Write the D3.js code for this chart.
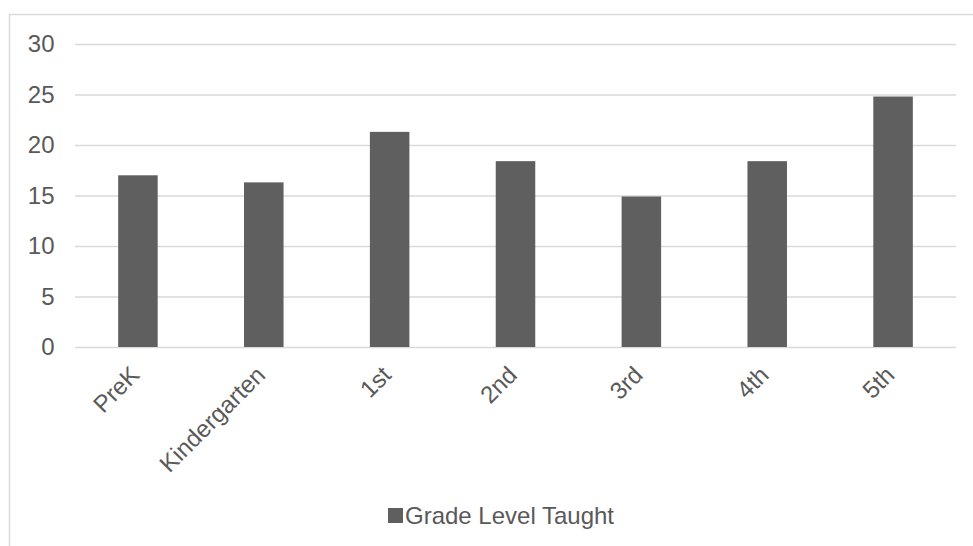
<!DOCTYPE html>
<html>
<head>
<meta charset="utf-8">
<script src="https://cdn.jsdelivr.net/npm/d3@7"></script>
<style>
  html, body { margin: 0; padding: 0; background: #fff; }
  svg { display: block; font-family: "Liberation Sans", Arial, sans-serif; }
</style>
</head>
<body>
<svg id="chart" width="973" height="546"></svg>
<script>
// Grade level data
const categories = ["PreK", "Kindergarten", "1st", "2nd", "3rd", "4th", "5th"];
const values = [17.0, 16.3, 21.3, 18.4, 14.9, 18.4, 24.8];
const yTicks = [0, 5, 10, 15, 20, 25, 30];
const seriesName = "Grade Level Taught";

const svg = d3.select("#chart");
const W = 973, H = 546;
const margin = { left: 75, right: 17, top: 44, bottom: 199 };
const plotW = W - margin.left - margin.right;
const plotH = H - margin.top - margin.bottom;

const barColor = "#5f5f5f";
const textColor = "#595959";
const gridColor = "#d9d9d9";
const fontSize = "24px";

// outer chart frame (continues past the right and bottom edges)
svg.append("rect")
  .attr("x", 9.5).attr("y", 14.5)
  .attr("width", W + 20).attr("height", H + 20)
  .attr("fill", "none").attr("stroke", gridColor).attr("stroke-width", 1.5);

const g = svg.append("g").attr("transform", `translate(${margin.left},${margin.top})`);

const x = d3.scaleBand().domain(categories).range([0, plotW]).paddingInner(0.686).paddingOuter(0.343);
const y = d3.scaleLinear().domain([0, 30]).range([plotH, 0]);

// horizontal gridlines and y labels
const yAxis = d3.axisLeft(y).tickValues(yTicks).tickSize(-plotW).tickPadding(20.5).tickFormat(d3.format("d"));
const ya = g.append("g").call(yAxis);
ya.select(".domain").remove();
ya.selectAll(".tick line").attr("stroke", gridColor).attr("stroke-width", 1.5);
ya.selectAll(".tick text").attr("fill", textColor).attr("font-size", fontSize);

// bars
g.selectAll("rect.bar").data(values).join("rect")
  .attr("class", "bar")
  .attr("x", (d, i) => x(categories[i]))
  .attr("y", d => y(d))
  .attr("width", x.bandwidth())
  .attr("height", d => y(0) - y(d))
  .attr("fill", barColor);

// category labels, rotated
const xa = g.append("g").attr("transform", `translate(0,${plotH})`)
  .call(d3.axisBottom(x).tickSize(0).tickPadding(0));
xa.select(".domain").remove();
xa.selectAll(".tick text")
  .attr("fill", textColor).attr("font-size", fontSize)
  .attr("text-anchor", "end")
  .attr("dy", "0.35em")
  .attr("transform", "translate(-3,23.5) rotate(-45)");

// legend
const leg = svg.append("g").attr("transform", "translate(388,508)");
leg.append("rect").attr("x", 0).attr("y", 0).attr("width", 15).attr("height", 15).attr("fill", barColor);
leg.append("text").attr("x", 17).attr("y", 7.5).attr("dy", "0.35em")
  .attr("fill", textColor).attr("font-size", fontSize).text(seriesName);
</script>
</body>
</html>
